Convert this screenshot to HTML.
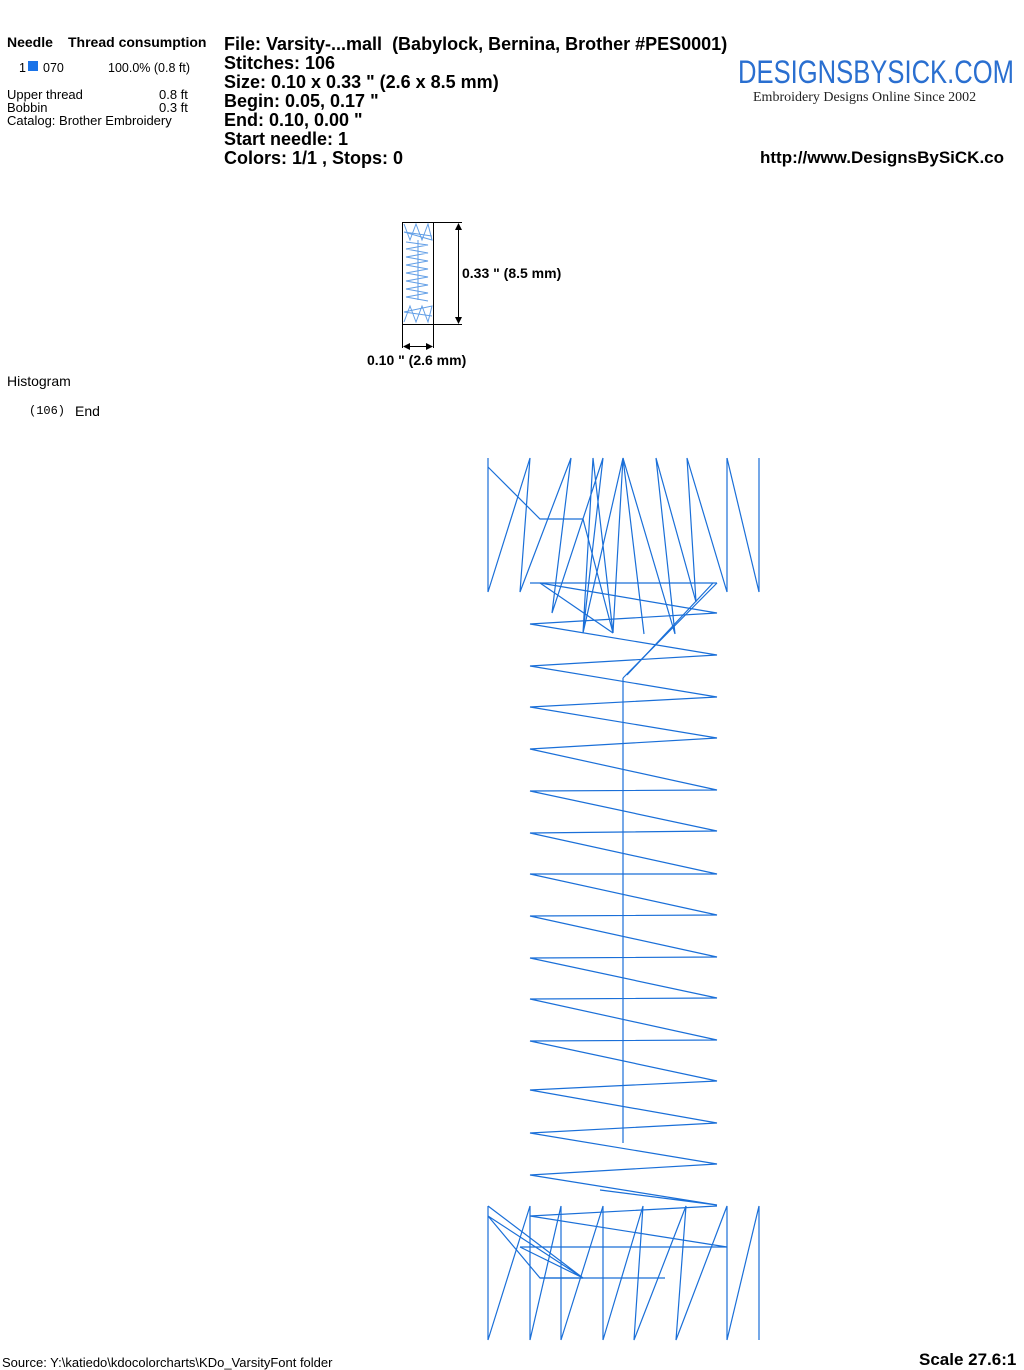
<!DOCTYPE html>
<html><head><meta charset="utf-8"><style>
html,body{margin:0;padding:0;background:#fff}
body{width:1024px;height:1370px;position:relative;overflow:hidden;font-family:"Liberation Sans",Arial,sans-serif;color:#000}
.a{position:absolute;white-space:nowrap}
.b{font-weight:bold}
</style></head><body>
<div class="a b" style="left:7px;top:34px;font-size:14px">Needle</div>
<div class="a b" style="left:68px;top:34px;font-size:14px">Thread consumption</div>
<div class="a" style="left:19px;top:61px;font-size:12.5px">1</div>
<div class="a" style="left:28px;top:61px;width:10px;height:10px;background:#1a73e8"></div>
<div class="a" style="left:43px;top:61px;font-size:12.5px">070</div>
<div class="a" style="left:108px;top:61px;font-size:12.5px">100.0% (0.8 ft)</div>
<div class="a" style="left:7px;top:88px;font-size:13px;line-height:13px">Upper thread<br>Bobbin<br>Catalog: Brother Embroidery</div>
<div class="a" style="left:159px;top:88px;font-size:13px;line-height:13px">0.8 ft<br>0.3 ft</div>
<div class="a b" style="left:224px;top:35px;font-size:18px;line-height:19px">File: Varsity-...mall&nbsp; (Babylock, Bernina, Brother #PES0001)<br>Stitches: 106<br>Size: 0.10 x 0.33 " (2.6 x 8.5 mm)<br>Begin: 0.05, 0.17 "<br>End: 0.10, 0.00 "<br>Start needle: 1<br>Colors: 1/1 , Stops: 0</div>
<div class="a" style="left:738px;top:54px;font-size:32px;color:#2a6fd0;transform:scaleX(0.8);transform-origin:left">DESIGNSBYSICK.COM</div>
<div class="a" style="left:753px;top:90px;font-size:14px;font-family:'Liberation Serif',serif;color:#222">Embroidery Designs Online Since 2002</div>
<div class="a b" style="left:760px;top:148px;font-size:17px">http://www.DesignsBySiCK.co</div>
<svg class="a" style="left:0;top:0" width="1024" height="1370">
<g stroke="#000" stroke-width="1" fill="none">
<rect x="402.5" y="222.5" width="31" height="102"/>
<line x1="433" y1="222.5" x2="462" y2="222.5"/><line x1="433" y1="324.5" x2="462" y2="324.5"/>
<line x1="458.5" y1="224" x2="458.5" y2="323"/>
<line x1="402.5" y1="325" x2="402.5" y2="348"/><line x1="433.5" y1="325" x2="433.5" y2="348"/>
<line x1="404" y1="346.5" x2="432" y2="346.5"/>
</g>
<g fill="#000"><polygon points="458.5,223 455,230 462,230"/><polygon points="458.5,324 455,317 462,317"/><polygon points="403,346.5 410,343 410,350"/><polygon points="433,346.5 426,343 426,350"/></g>
<g stroke="#3a86e0" stroke-width="1" fill="none" opacity="0.8">
<polyline points="404,224 410,240 416,224 422,240 428,224 432,240 404,232 432,236"/>
<polyline points="406,242 428,245 406,249 428,253 406,257 428,261 406,265 428,269 406,273 428,277 406,281 428,285 406,289 428,293 406,297 428,301"/>
<line x1="418" y1="240" x2="418" y2="300"/>
<polyline points="404,322 410,306 416,322 422,306 428,322 432,306 404,312 432,316"/>
</g>
<g stroke="#1a6fd8" stroke-width="1.2" fill="none">
<polyline points="488,458 488,592 530,458 520,592 571,458 552,613 603,458 583,633 593,458 613,633 623,458 644,634 623,458 583,633"/>
<polyline points="623,458 675,634 656,458 696,602 687,458 727,592 727,458 727,592"/>
<polyline points="727,458 759,592 759,458 759,592"/>
<polyline points="488,467 540,519 583,519 613,633"/>
<line x1="530" y1="583" x2="717" y2="583"/>
<polyline points="540,583 613,633"/>
<polyline points="717,583 623,678"/><polyline points="713,583 627,675"/>
<polyline points="540,583 717,613 530,624 717,655 530,666 717,697 530,707 717,738 530,749 717,790 530,791 717,831 530,833 717,874 530,874 717,915 530,916 717,957 530,958 717,998 530,999 717,1040 530,1041 717,1081 530,1090 717,1123 530,1133 717,1164 530,1175 717,1205 600,1190"/>
<line x1="623" y1="678" x2="623" y2="1143"/>
<polyline points="488,1206 488,1340 530,1206 530,1340 561,1206 561,1340 603,1206 603,1340 643,1206 634,1340 686,1206 676,1340 727,1206 727,1340 759,1206 759,1340 759,1206"/>
<polyline points="717,1206 530,1216 727,1247 520,1247"/>
<polyline points="540,1278 665,1278"/>
<polyline points="488,1206 583,1278 488,1216 583,1278 520,1247 583,1278 540,1278 488,1216"/>
</g>
</svg>
<div class="a b" style="left:462px;top:265px;font-size:14px">0.33 " (8.5 mm)</div>
<div class="a b" style="left:367px;top:352px;font-size:14px">0.10 " (2.6 mm)</div>
<div class="a" style="left:7px;top:373px;font-size:14px">Histogram</div>
<div class="a" style="left:29px;top:404px;font-size:12px;font-family:'Liberation Mono',monospace">(106)</div>
<div class="a" style="left:75px;top:403px;font-size:14px">End</div>
<div class="a" style="left:2px;top:1355px;font-size:13px">Source: Y:\katiedo\kdocolorcharts\KDo_VarsityFont folder</div>
<div class="a b" style="left:919px;top:1350px;font-size:17px">Scale 27.6:1</div>
</body></html>
